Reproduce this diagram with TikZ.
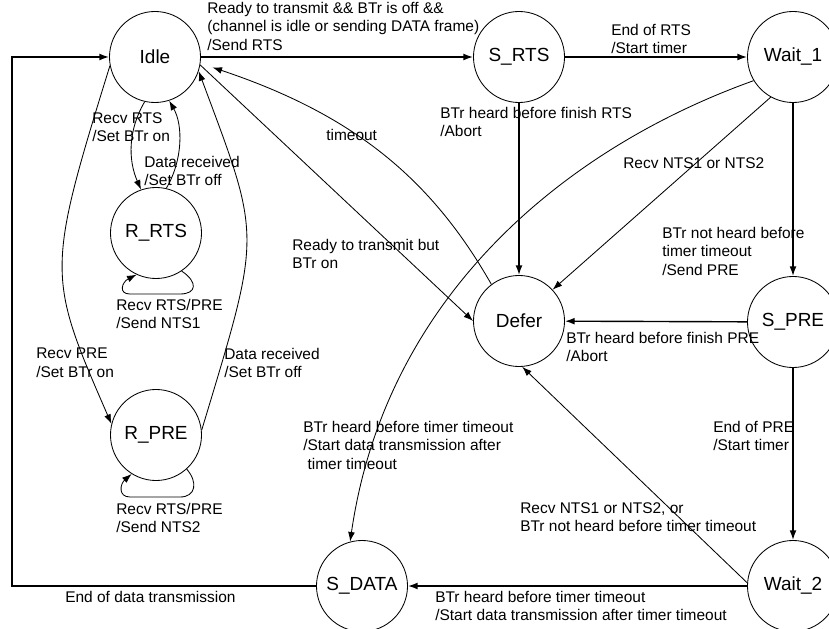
\documentclass[tikz,border=0pt]{standalone}
\usepackage{fontspec}
\setmainfont{Liberation Sans}
\usetikzlibrary{arrows.meta}

\tikzset{
  stnode/.style={draw, circle, line width=0.6pt, minimum size=2.275cm, inner sep=0pt, font=\fontsize{13.5}{16}\selectfont},
  lbl/.style={anchor=north west, inner sep=0pt, align=left, font=\fontsize{11}{13}\selectfont},
  trans/.style={-{Latex[length=2.4mm,width=1.7mm]}, line width=0.6pt},
  strans/.style={trans, line width=1pt}
}

\begin{document}
\begin{tikzpicture}[x=0.025cm, y=-0.025cm]
  \useasboundingbox (0,0) rectangle (829,629);
  % states
  \node[stnode] (idle)  at (155,57)  {Idle};
  \node[stnode] (srts)  at (519,57)  {S\_RTS};
  \node[stnode] (wait1) at (793,57)  {Wait\_1};
  \node[stnode] (rrts)  at (156,233) {R\_RTS};
  \node[stnode] (defer) at (519,321) {Defer};
  \node[stnode] (spre)  at (793,322) {S\_PRE};
  \node[stnode] (rpre)  at (156,435) {R\_PRE};
  \node[stnode] (sdata) at (362,586) {S\_DATA};
  \node[stnode] (wait2) at (793,586) {Wait\_2};

  % straight transitions
  \draw[strans] (idle) -- (srts);
  \draw[strans] (srts) -- (wait1);
  \draw[strans] (srts) -- (defer);
  \draw[strans] (wait1) -- (spre);
  \draw[strans] (spre) -- (defer);
  \draw[strans] (spre) -- (wait2);
  \draw[strans] (wait2) -- (sdata);
  \draw[strans] (sdata.west) -- ++(-304,0) |- (idle.west);
  \draw[trans] (wait1.-119) -- (defer.43);
  \draw[trans] (wait2.176) -- (defer.-86);
  \draw[trans] (idle.-10) -- (defer.west);

  % curved transitions
  \draw[trans] (wait1.-149) .. controls (560,150) and (385,300) .. (sdata.105);
  \draw[trans, shorten >=9pt] (defer.127) .. controls (432,180) and (355,115) .. (idle.-8);
  \draw[trans] (idle.-103) .. controls (128,130) and (128,160) .. (rrts.109);
  \draw[trans] (rrts.77) .. controls (183,160) and (183,125) .. (idle.-72);
  \draw[trans] (idle.-169) .. controls (46,272) and (47,276) .. (rpre.166);
  \draw[trans] (rpre.6) .. controls (262,230) and (262,241) .. (idle.-18);
  \draw[trans] (rrts.-56) .. controls (198,282) and (197,294) .. (180,294) -- (130,294)
    .. controls (118,294) and (122,282) .. (rrts.-115);
  \draw[trans] (rpre.-48) .. controls (198,482) and (196,497) .. (180,497) -- (130,497)
    .. controls (118,497) and (120,484) .. (rpre.-122);

  % labels
  \node[lbl] (lsend)   at (207,2)   {Ready to transmit \&\& BTr is off \&\&\\(channel is idle or sending DATA frame)\\/Send RTS};
  \node[lbl] (lendrts) at (611,24)  {End of RTS\\/Start timer};
  \node[lbl] (labrts)  at (440,107) {BTr heard before finish RTS\\/Abort};
  \node[lbl] (lnts)    at (623,157) {Recv NTS1 or NTS2};
  \node[lbl] (lpre)    at (662,227) {BTr not heard before\\timer timeout\\/Send PRE};
  \node[lbl] (labpre)  at (566,332) {BTr heard before finish PRE\\/Abort};
  \node[lbl] (lbton)   at (292,239) {Ready to transmit but\\BTr on};
  \node[lbl] (ltime)   at (326,129) {timeout};
  \node[lbl] (lrrts)   at (92,112)  {Recv RTS\\/Set BTr on};
  \node[lbl] (ldrts)   at (144,156) {Data received\\/Set BTr off};
  \node[lbl] (lnts1)   at (116,299) {Recv RTS/PRE\\/Send NTS1};
  \node[lbl] (lrpre)   at (36,348)  {Recv PRE\\/Set BTr on};
  \node[lbl] (ldpre)   at (224,348) {Data received\\/Set BTr off};
  \node[lbl] (lnts2)   at (116,503) {Recv RTS/PRE\\/Send NTS2};
  \node[lbl] (ldata1)  at (303,421) {BTr heard before timer timeout\\/Start data transmission after\\\ timer timeout};
  \node[lbl] (lend)    at (65,591)  {End of data transmission};
  \node[lbl] (lendpre) at (713,421) {End of PRE\\/Start timer};
  \node[lbl] (ldefer)  at (520,502) {Recv NTS1 or NTS2, or\\BTr not heard before timer timeout};
  \node[lbl] (ldata2)  at (435,591) {BTr heard before timer timeout\\/Start data transmission after timer timeout};
\end{tikzpicture}
\end{document}
